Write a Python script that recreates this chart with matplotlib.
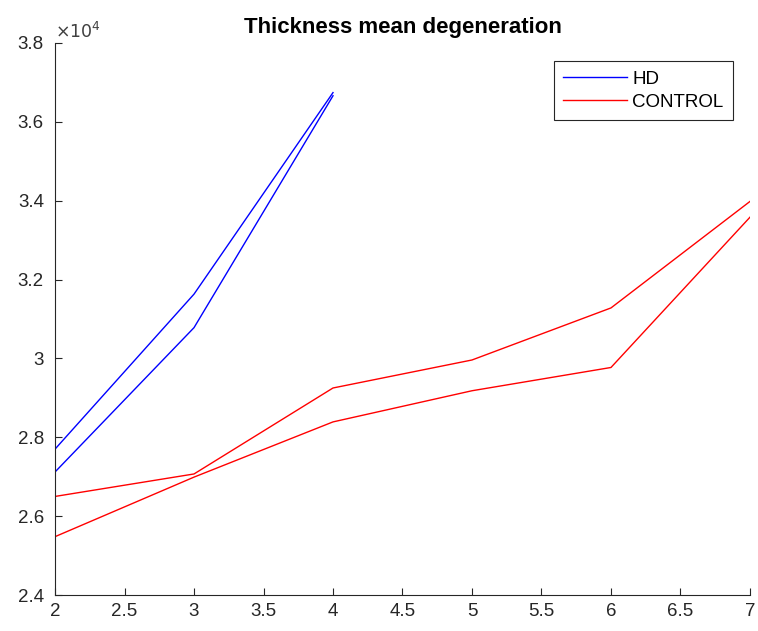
import matplotlib
matplotlib.use("Agg")
import matplotlib.pyplot as plt
import matplotlib.ticker as mt

plt.rcParams['font.family'] = ['Liberation Sans', 'DejaVu Sans']

months = [2, 3, 4, 5, 6, 7]

# HD subjects (only 3 time points)
hd_a = [27700, 31630, 36740]
hd_b = [27120, 30780, 36660]

# control subjects
ctrl_a = [26500, 27070, 29250, 29960, 31280, 33980]
ctrl_b = [25480, 26990, 28390, 29180, 29770, 33580]

fig = plt.figure(figsize=(7.58, 6.31), dpi=100)
ax = fig.add_axes([0.0726, 0.057, 0.9168, 0.875])

ax.plot(months[:3], hd_a, color=(0, 0, 1), lw=1.0, label="HD")
ax.plot(months[:3], hd_b, color=(0, 0, 1), lw=1.0)
ax.plot(months, ctrl_a, color=(1, 0, 0), lw=1.0, label="CONTROL")
ax.plot(months, ctrl_b, color=(1, 0, 0), lw=1.0)

ax.set_xlim(2, 7)
ax.set_ylim(24000, 38000)
ax.xaxis.set_major_locator(mt.MultipleLocator(0.5))
ax.yaxis.set_major_locator(mt.MultipleLocator(2000))
ax.xaxis.set_major_formatter(mt.FuncFormatter(lambda v, p: f"{v:g}"))
ax.yaxis.set_major_formatter(mt.FuncFormatter(lambda v, p: f"{v / 1e4:g}"))

grey = "#262626"
for side in ["top", "right"]:
    ax.spines[side].set_visible(False)
for side in ["left", "bottom"]:
    ax.spines[side].set_color(grey)
    ax.spines[side].set_linewidth(0.8)
ax.tick_params(direction="in", length=5, width=0.8, colors=grey, labelsize=13.5)
ax.tick_params(axis="y", pad=8)
ax.tick_params(axis="x", pad=6)

ax.text(0.0, 1.003, r"$\times10^{4}$", transform=ax.transAxes, fontsize=12.5, color="#404040",
        ha="left", va="bottom")
ax.set_title("Thickness mean degeneration", fontsize=16, fontweight="bold", pad=7)

leg = ax.legend(loc="upper right", bbox_to_anchor=(0.9755, 0.967), fontsize=13.5,
                fancybox=False, framealpha=1, edgecolor=grey, handlelength=3.4,
                borderpad=0.5, labelspacing=0.32, handletextpad=0.3, borderaxespad=0)
leg.get_frame().set_linewidth(0.8)

fig.savefig("out.png", dpi=100)
